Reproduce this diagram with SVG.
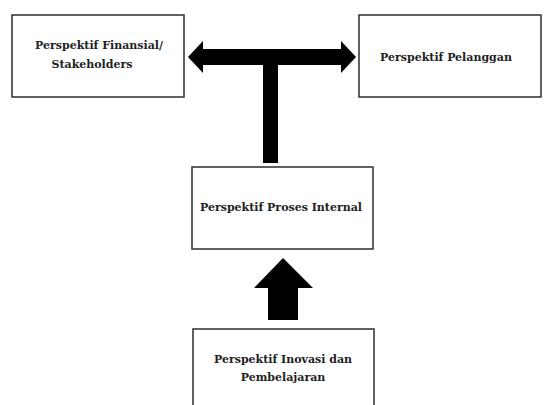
<svg xmlns="http://www.w3.org/2000/svg" width="545" height="405" viewBox="0 0 545 405">
<style>
.box{fill:#fff;stroke:#3a3a3a;stroke-width:1.6}
.t{font-family:"DejaVu Serif",serif;font-weight:bold;font-size:11px;fill:#222;text-anchor:middle}
.arr{fill:#000}
</style>
<rect width="545" height="405" fill="#fff"/>
<g id="connectors">
<polygon class="arr" points="188,57 203,41 203,49 341,49 341,41 356,57 341,73 341,65 278,65 278,163 263,163 263,65 203,65 203,73"/>
<polygon class="arr" points="283,258 313,288 298,288 298,320 268,320 268,288 254,288"/>
</g>
<g id="financial">
<rect class="box" x="12" y="15" width="172" height="82"/>
<text class="t" x="99" y="49">Perspektif Finansial/</text>
<text class="t" x="92" y="68">Stakeholders</text>
</g>
<g id="pelanggan">
<rect class="box" x="359" y="15" width="182" height="82"/>
<text class="t" x="446" y="61">Perspektif Pelanggan</text>
</g>
<g id="internal">
<rect class="box" x="192" y="167" width="181" height="82"/>
<text class="t" x="281" y="211">Perspektif Proses Internal</text>
</g>
<g id="inovasi">
<rect class="box" x="193" y="329" width="181" height="90"/>
<text class="t" x="283" y="363">Perspektif Inovasi dan</text>
<text class="t" x="283" y="381">Pembelajaran</text>
</g>
</svg>
